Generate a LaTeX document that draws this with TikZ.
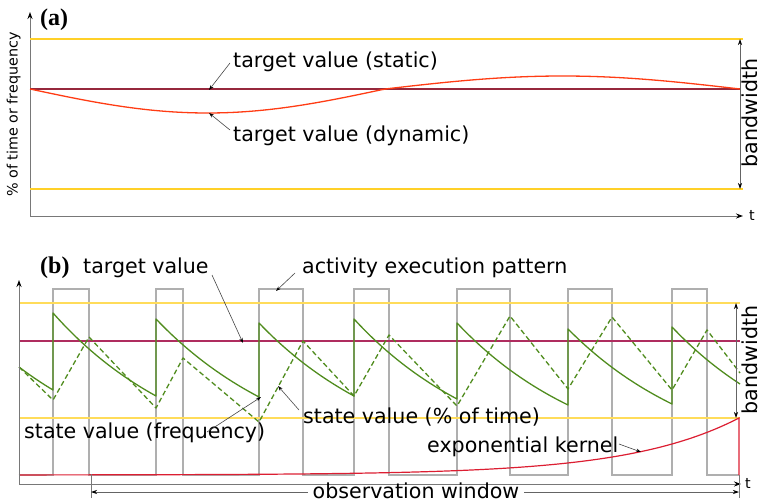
\documentclass[tikz,border=0pt]{standalone}
\usepackage{fontspec}
\setmainfont{DejaVu Sans}
\newfontfamily\panelfont{Liberation Serif}
\usetikzlibrary{arrows.meta}
\definecolor{golda}{RGB}{255,208,40}
\definecolor{goldb}{RGB}{255,220,90}
\definecolor{tmaroon}{RGB}{150,40,60}
\definecolor{tmaroonb}{RGB}{175,45,95}
\definecolor{dynred}{RGB}{255,60,20}
\definecolor{kern}{RGB}{220,30,50}
\definecolor{sgreen}{RGB}{80,140,30}
\definecolor{pulsegray}{RGB}{175,175,175}
\definecolor{axisgray}{RGB}{120,120,120}
\definecolor{leadgray}{RGB}{70,70,70}
\definecolor{bwgray}{RGB}{100,100,100}
\begin{document}
\begin{tikzpicture}[x=1pt,y=-1pt,
  lbl/.style={font=\fontsize{20.6}{24}\selectfont, anchor=base west, inner sep=0pt},
  small/.style={font=\fontsize{14.3}{17}\selectfont, inner sep=0pt},
  panel/.style={font=\panelfont\bfseries\fontsize{24}{28}\selectfont, anchor=base west, inner sep=0pt},
  axisline/.style={draw=axisgray, line width=1pt, -{Stealth[length=7pt,width=5pt,color=black]}},
  leader/.style={draw=leadgray, line width=0.6pt, -{Stealth[length=5pt,width=3.5pt,color=black]}},
  bwarrow/.style={draw=bwgray, line width=0.7pt, {Stealth[length=6pt,width=4pt,color=black]}-{Stealth[length=6pt,width=4pt,color=black]}},
  halfarrow/.style={draw=bwgray, line width=0.7pt, -{Stealth[length=6pt,width=4pt,color=black]}},
  greenline/.style={draw=sgreen, line width=1.3pt, line join=round},
]
\useasboundingbox (0,0) rectangle (763,503);

% ================= panel (a)
\node[panel] (pa) at (40,26) {(a)};
\coordinate (ao) at (30,216);
\coordinate (ay) at (30,12);
\coordinate (ax) at (743,216);
\draw[axisline] (ao) -- (ay);
\draw[axisline] (ao) -- (ax);
\node[small, anchor=base west] (ta) at (749,220) {t};
\node[small, rotate=90, anchor=base] (ylab) at (17.6,114.5) {\% of time or frequency};

\draw[golda, line width=1.5pt] (30,39) -- (743,39);
\draw[golda, line width=1.5pt] (30,189) -- (743,189);
\draw[tmaroon, line width=2pt] (30,89) -- (740,89);
\draw[dynred, line width=1.3pt] plot[domain=30:740, samples=120] (\x,{89+((\x<385)?24:13)*sin((\x-30)/355*180)});

\coordinate (bwat) at (740,39);
\coordinate (bwab) at (740,189);
\draw[bwarrow] (bwat) -- (bwab);
\node[lbl, rotate=90, anchor=base] (bwa) at (757.8,113) {bandwidth};

\node[lbl] (tvs) at (233,67) {target value (static)};
\node[lbl] (tvd) at (233,141) {target value (dynamic)};
\coordinate (tvsS) at (230,63);
\coordinate (tvsT) at (209,90);
\coordinate (tvdS) at (230,130);
\coordinate (tvdT) at (209,113);
\draw[leader] (tvsS) -- (tvsT);
\draw[leader] (tvdS) -- (tvdT);

% ================= panel (b)
\node[panel] (pb) at (40,273) {(b)};
\coordinate (bo) at (19,484);
\coordinate (by) at (19,280);
\coordinate (bx) at (741,484);

% activity pattern
\draw[pulsegray, line width=1.1pt] (19,475) -- (53,475) -- (53,289) -- (89,289) -- (89,475)
  -- (156,475) -- (156,289) -- (183,289) -- (183,475)
  -- (259,475) -- (259,289) -- (303,289) -- (303,475)
  -- (354,475) -- (354,289) -- (389,289) -- (389,475)
  -- (457,475) -- (457,289) -- (510,289) -- (510,475)
  -- (568,475) -- (568,289) -- (612,289) -- (612,475)
  -- (672,475) -- (672,289) -- (707,289) -- (707,475) -- (739,475);

\draw[goldb, line width=1.3pt] (19,303) -- (740,303);
\draw[goldb, line width=1.3pt] (19,418) -- (740,418);
\draw[tmaroonb, line width=1.1pt] (19,341) -- (740,341);

% state value (% of time), dashed
\draw[greenline, dash pattern=on 5pt off 3pt] (19,367) -- (53,400) -- (89,337) -- (156,408) -- (183,358)
  -- (259,422) -- (303,341) -- (354,396) -- (389,335) -- (457,406) -- (510,316)
  -- (568,389) -- (612,317) -- (672,390) -- (707,330) -- (740,373);

% state value (frequency), solid
\draw[greenline] plot[domain=0:1, samples=10, variable=\t] ({19+\t*34},{475-108*exp(-0.2395*\t)})
  -- (53,313) -- plot[domain=0:1, samples=20, variable=\t] ({53+\t*103},{475-162*exp(-0.7182*\t)})
  -- (156,319) -- plot[domain=0:1, samples=20, variable=\t] ({156+\t*103},{475-156*exp(-0.6931*\t)})
  -- (259,323) -- plot[domain=0:1, samples=20, variable=\t] ({259+\t*95},{475-152*exp(-0.6545*\t)})
  -- (354,319) -- plot[domain=0:1, samples=20, variable=\t] ({354+\t*103},{475-156*exp(-0.7191*\t)})
  -- (457,323) -- plot[domain=0:1, samples=20, variable=\t] ({457+\t*111},{475-152*exp(-0.7753*\t)})
  -- (568,329) -- plot[domain=0:1, samples=20, variable=\t] ({568+\t*104},{475-146*exp(-0.7209*\t)})
  -- (672,327) -- plot[domain=0:1, samples=15, variable=\t] ({672+\t*68},{475-148*exp(-0.4864*\t)});

% exponential kernel
\draw[kern, line width=1.2pt] plot[domain=19:739, samples=120] (\x,{475-57*exp((\x-739)/110)}) -- (739,475);

% axes
\draw[axisline] (bo) -- (by);
\draw[axisline] (bo) -- (bx);
\node[small, anchor=base west] (tb) at (745,488) {t};

% bandwidth
\coordinate (bwbt) at (736,303);
\coordinate (bwbb) at (736,418);
\draw[bwarrow] (bwbt) -- (bwbb);
\node[lbl, rotate=90, anchor=base] (bwb) at (757.8,360) {bandwidth};

% observation window
\coordinate (owl) at (91,474);
\coordinate (owlb) at (91,498);
\coordinate (owr) at (739,475);
\coordinate (owrb) at (739,498);
\draw[axisgray, line width=0.8pt] (owl) -- (owlb);
\draw[axisgray, line width=0.8pt] (owr) -- (owrb);
\coordinate (owa) at (91,492);
\coordinate (owb) at (739,492);
\node[lbl, anchor=base, inner xsep=5pt] (ow) at (416,498) {observation window};
\draw[halfarrow] (owa -| ow.west) -- (owa);
\draw[halfarrow] (owa -| ow.east) -- (owb);

% labels (b)
\node[lbl] (tvb) at (83,273) {target value};
\coordinate (tvbS) at (212,275);
\coordinate (tvbT) at (243,343);
\draw[leader] (tvbS) -- (tvbT);

\node[lbl] (aep) at (302,273) {activity execution pattern};
\coordinate (aepS) at (295,273);
\coordinate (aepT) at (276,291);
\draw[leader] (aepS) -- (aepT);

\node[lbl] (svf) at (24,438) {state value (frequency)};
\coordinate (svfS) at (207,432);
\coordinate (svfT) at (261,397);
\draw[leader] (svfS) -- (svfT);

\node[lbl] (svt) at (303,423) {state value (\% of time)};
\coordinate (svtS) at (299,410);
\coordinate (svtT) at (278,386);
\draw[leader] (svtS) -- (svtT);

\node[lbl] (ek) at (427,452) {exponential kernel};
\coordinate (ekS) at (619,444);
\coordinate (ekT) at (641,452);
\draw[leader] (ekS) -- (ekT);
\end{tikzpicture}
\end{document}
